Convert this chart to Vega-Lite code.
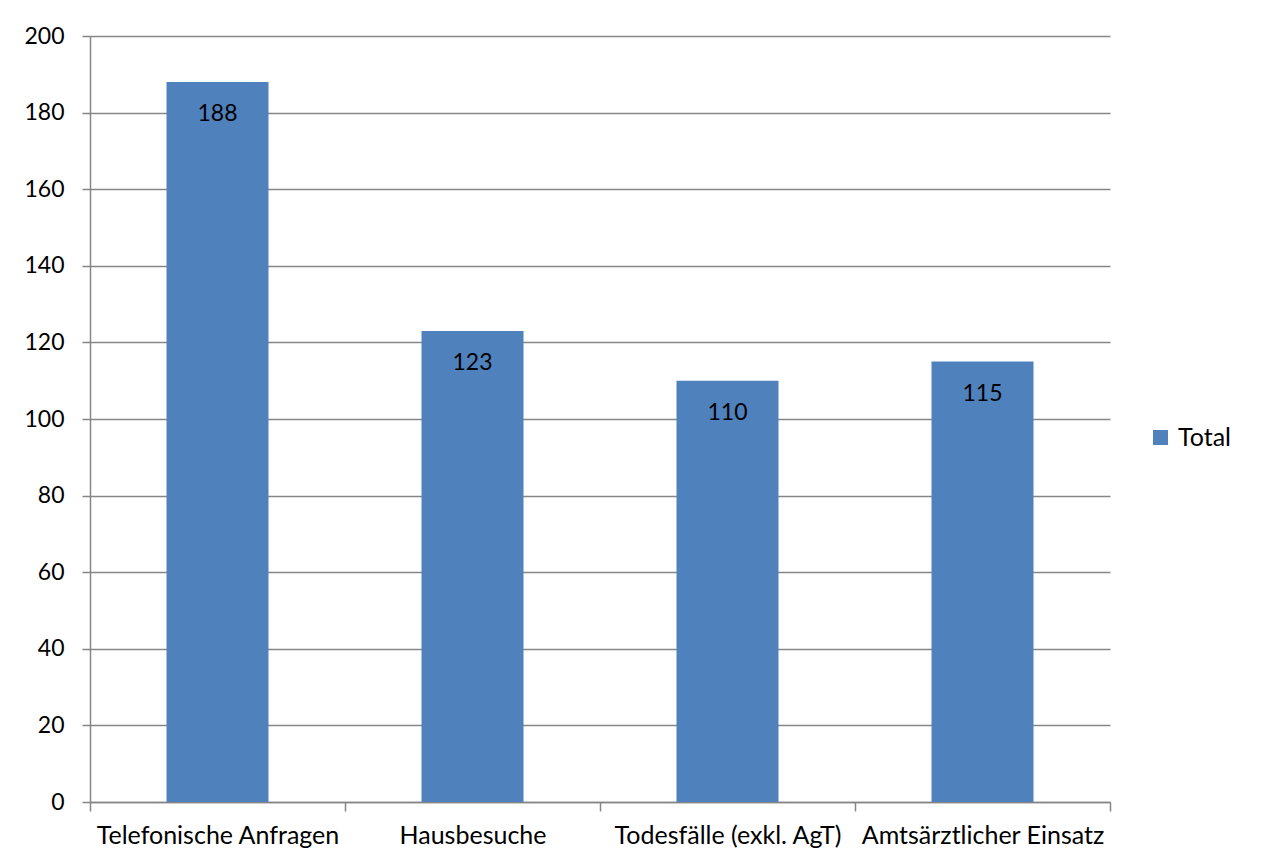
{
  "$schema": "https://vega.github.io/schema/vega-lite/v6.json",
  "width": 1020,
  "height": 766,
  "autosize": {"type": "none"},
  "padding": {"left": 90, "top": 36, "right": 152, "bottom": 61},
  "background": "#ffffff",
  "config": {
    "font": "Lato",
    "view": {"stroke": null},
    "axis": {
      "labelFont": "Lato",
      "labelFontSize": 23,
      "labelColor": "#000000",
      "labelLimit": 0,
      "domainColor": "#868686",
      "domainWidth": 1.5,
      "tickColor": "#868686",
      "tickWidth": 1.5,
      "gridColor": "#868686",
      "gridWidth": 1.5,
      "titleFontSize": 0
    }
  },
  "data": {
    "values": [
      {"kategorie": "Telefonische Anfragen", "anzahl": 188, "serie": "Total"},
      {"kategorie": "Hausbesuche", "anzahl": 123, "serie": "Total"},
      {"kategorie": "Todesfälle (exkl. AgT)", "anzahl": 110, "serie": "Total"},
      {"kategorie": "Amtsärztlicher Einsatz", "anzahl": 115, "serie": "Total"}
    ]
  },
  "encoding": {
    "x": {
      "field": "kategorie",
      "type": "nominal",
      "sort": null,
      "title": null,
      "scale": {"paddingInner": 0, "paddingOuter": 0},
      "axis": {
        "labelAngle": 0,
        "labelFontSize": 25,
        "tickBand": "extent",
        "tickSize": 9,
        "labelPadding": 12,
        "labelBaseline": "top",
        "grid": false
      }
    },
    "y": {
      "field": "anzahl",
      "type": "quantitative",
      "title": null,
      "scale": {"domain": [0, 200], "nice": false},
      "axis": {
        "values": [0, 20, 40, 60, 80, 100, 120, 140, 160, 180, 200],
        "tickSize": 8,
        "labelPadding": 18,
        "grid": true,
        "gridDash": []
      }
    }
  },
  "layer": [
    {
      "mark": {"type": "bar", "color": "#4F81BD", "width": {"band": 0.4}},
      "encoding": {
        "color": {
          "field": "serie",
          "type": "nominal",
          "scale": {"range": ["#4F81BD"]},
          "legend": {
            "title": null,
            "orient": "none",
            "legendX": 1058,
            "legendY": 389,
            "symbolType": "square",
            "symbolSize": 225,
            "symbolStrokeWidth": 0,
            "labelFont": "Lato",
            "labelFontSize": 25,
            "labelColor": "#000000",
            "labelOffset": 5
          }
        }
      }
    },
    {
      "mark": {
        "type": "text",
        "font": "Lato",
        "fontSize": 23,
        "color": "#000000",
        "baseline": "alphabetic",
        "dy": 39
      },
      "encoding": {
        "text": {"field": "anzahl", "type": "quantitative"}
      }
    }
  ]
}
